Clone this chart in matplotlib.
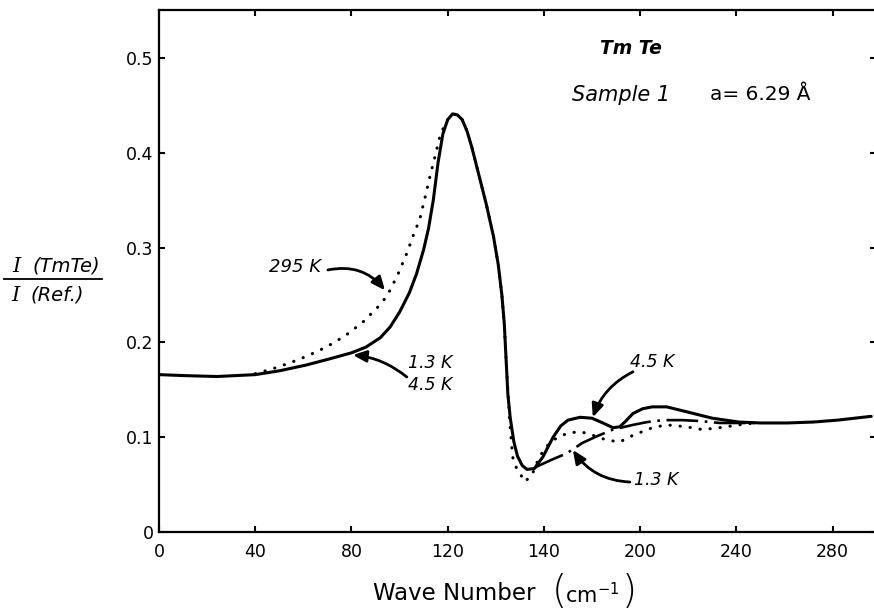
"""
TmTe far-infrared reflectance ratio, sample 1
"""
import numpy as np
import matplotlib
matplotlib.use('Agg')
import matplotlib.pyplot as plt

plt.rcParams['font.family'] = ['DejaVu Sans']
plt.rcParams['mathtext.fontset'] = 'dejavusans'

# 4.5 K (solid), identical to 1.3 K below ~157 cm-1
wn_4k = [0, 10, 24, 40, 50, 61, 70, 80, 86, 92, 96, 100, 104, 107, 110, 112, 114, 116, 118,
         120, 122, 124, 126, 128, 130, 133, 136, 139, 141, 142.5, 143.5, 144.3, 145, 146,
         147.5, 149, 151, 153, 156, 159.5, 163.8, 167, 170, 175, 180, 184.5, 188.7, 191.5,
         194, 197, 201, 205, 211, 219, 230, 241, 250, 261, 272, 282, 296]
r_4k = [0.166, 0.165, 0.164, 0.166, 0.170, 0.176, 0.182, 0.189, 0.195, 0.205, 0.216, 0.232,
        0.252, 0.272, 0.298, 0.320, 0.350, 0.390, 0.420, 0.435, 0.441, 0.440, 0.435, 0.423,
        0.406, 0.376, 0.346, 0.312, 0.282, 0.250, 0.220, 0.180, 0.145, 0.120, 0.095, 0.080,
        0.070, 0.066, 0.067, 0.079, 0.100, 0.112, 0.118, 0.121, 0.120, 0.115, 0.110, 0.111,
        0.117, 0.125, 0.130, 0.132, 0.132, 0.127, 0.120, 0.116, 0.115, 0.115, 0.116, 0.118,
        0.122]

# 295 K (dotted)
wn_295 = [40, 47, 54, 61, 67, 73, 79, 85, 92, 95, 99, 103, 106, 108.4, 110.5, 112.6, 114.7,
          117, 120, 122, 124, 126, 128, 130, 133, 136, 139, 141, 142.5, 143.5, 144.3, 145,
          145.8, 147, 148.5, 150, 152, 155, 158, 161, 163.8, 169.5, 175, 180.4, 186, 191.5,
          197, 205, 211, 219, 226, 233, 241, 248]
r_295 = [0.167, 0.172, 0.178, 0.185, 0.192, 0.200, 0.210, 0.222, 0.240, 0.250, 0.270, 0.294,
         0.315, 0.330, 0.352, 0.375, 0.396, 0.420, 0.435, 0.441, 0.440, 0.435, 0.423, 0.406,
         0.376, 0.346, 0.312, 0.282, 0.250, 0.220, 0.180, 0.150, 0.115, 0.079, 0.068, 0.062,
         0.053, 0.060, 0.079, 0.090, 0.097, 0.104, 0.106, 0.102, 0.097, 0.095, 0.102, 0.110,
         0.113, 0.111, 0.108, 0.110, 0.113, 0.115]

# 1.3 K (long dash - dot) where it departs from 4.5 K
wn_1k = [156, 157, 163, 169.5, 176, 182, 188.7, 197, 203, 209.4, 217.7, 225, 233, 241, 248]
r_1k = [0.067, 0.069, 0.076, 0.083, 0.094, 0.101, 0.108, 0.113, 0.116, 0.118, 0.118, 0.117,
        0.115, 0.115, 0.115]

xticks = [0, 40, 80, 120, 160, 200, 240, 280]
xtick_labels = ['0', '40', '80', '120', '140', '200', '240', '280']
yticks = [0, 0.1, 0.2, 0.3, 0.4, 0.5]
ytick_labels = ['0', '0.1', '0.2', '0.3', '0.4', '0.5']

fig = plt.figure(figsize=(8.74, 6.15), dpi=100)
ax = fig.add_axes([159 / 874, 83 / 615, 717 / 874, 522 / 615])

ax.plot(wn_4k, r_4k, color='black', lw=2.2, solid_capstyle='round',
        solid_joinstyle='round')
ax.plot(wn_295, r_295, color='black', lw=2.2, linestyle=(0, (0.1, 3.2)),
        dash_capstyle='round')
ax.plot(wn_1k, r_1k, color='black', lw=1.9, linestyle=(0, (12, 2.5, 1, 2.5)))

ax.set_xlim(0, 298)
ax.set_ylim(0, 0.5506)
ax.set_xticks(xticks)
ax.set_xticklabels(xtick_labels)
ax.set_yticks(yticks)
ax.set_yticklabels(ytick_labels)
ax.tick_params(direction='in', top=True, right=True, length=4, width=1.5,
               labelsize=12.5)
ax.tick_params(axis='x', pad=8)
ax.tick_params(axis='y', pad=4)
for s in ax.spines.values():
    s.set_linewidth(1.6)

# labels inside the plot
ax.text(196, 0.51, 'Tm Te', fontsize=13.5, style='italic', fontweight='bold',
        ha='center', va='center')
ax.text(171.6, 0.461, 'Sample 1', fontsize=15, style='italic', ha='left', va='center')
ax.text(229, 0.461, 'a= 6.29 Å', fontsize=14.5, ha='left', va='center')

ax.text(56.5, 0.2795, '295 K', fontsize=13, style='italic', ha='center', va='center')
ax.text(122, 0.178, '1.3 K', fontsize=12.5, style='italic', ha='right', va='center')
ax.text(122, 0.155, '4.5 K', fontsize=12.5, style='italic', ha='right', va='center')
ax.text(205, 0.179, '4.5 K', fontsize=12.5, style='italic', ha='center', va='center')
ax.text(206.5, 0.055, '1.3 K', fontsize=12.5, style='italic', ha='center', va='center')

arrow = dict(arrowstyle='-|>,head_length=0.8,head_width=0.35', color='black', lw=2,
             shrinkA=0, shrinkB=0)
ax.annotate('', xy=(93.9, 0.255), xytext=(70.2, 0.2764),
            arrowprops=dict(arrow, connectionstyle='arc3,rad=-0.3'))
ax.annotate('', xy=(80.6, 0.1867), xytext=(103, 0.1635),
            arrowprops=dict(arrow, connectionstyle='arc3,rad=0.15'))
ax.annotate('', xy=(180.3, 0.121), xytext=(197, 0.169),
            arrowprops=dict(arrow, connectionstyle='arc3,rad=0.2'))
ax.annotate('', xy=(172, 0.0865), xytext=(195.7, 0.0527),
            arrowprops=dict(arrow, connectionstyle='arc3,rad=-0.25'))

# x axis title with tall brackets
fig.text(454 / 874, 1 - 594 / 615, 'Wave Number', fontsize=16.5,
         ha='center', va='center')
fig.text(559 / 874, 1 - 592 / 615, '(', fontsize=28, fontweight='light',
         ha='center', va='center')
fig.text(592 / 874, 1 - 595 / 615, r'cm$^{-1}$', fontsize=15,
         ha='center', va='center')
fig.text(629 / 874, 1 - 592 / 615, ')', fontsize=28, fontweight='light',
         ha='center', va='center')

# y axis title as a fraction
fig.text(16 / 874, 1 - 266 / 615, 'I', fontsize=15, family='DejaVu Serif',
         style='italic', ha='center', va='center')
fig.text(33 / 874, 1 - 266 / 615, '(TmTe)', fontsize=14, style='italic',
         ha='left', va='center')
fig.add_artist(plt.Line2D([4 / 874, 102 / 874], [1 - 279 / 615, 1 - 279 / 615],
                          color='black', lw=1.3))
fig.text(15 / 874, 1 - 295 / 615, 'I', fontsize=15, family='DejaVu Serif',
         style='italic', ha='center', va='center')
fig.text(30 / 874, 1 - 295 / 615, '(Ref.)', fontsize=14, style='italic',
         ha='left', va='center')

fig.savefig('out.png', dpi=100)
